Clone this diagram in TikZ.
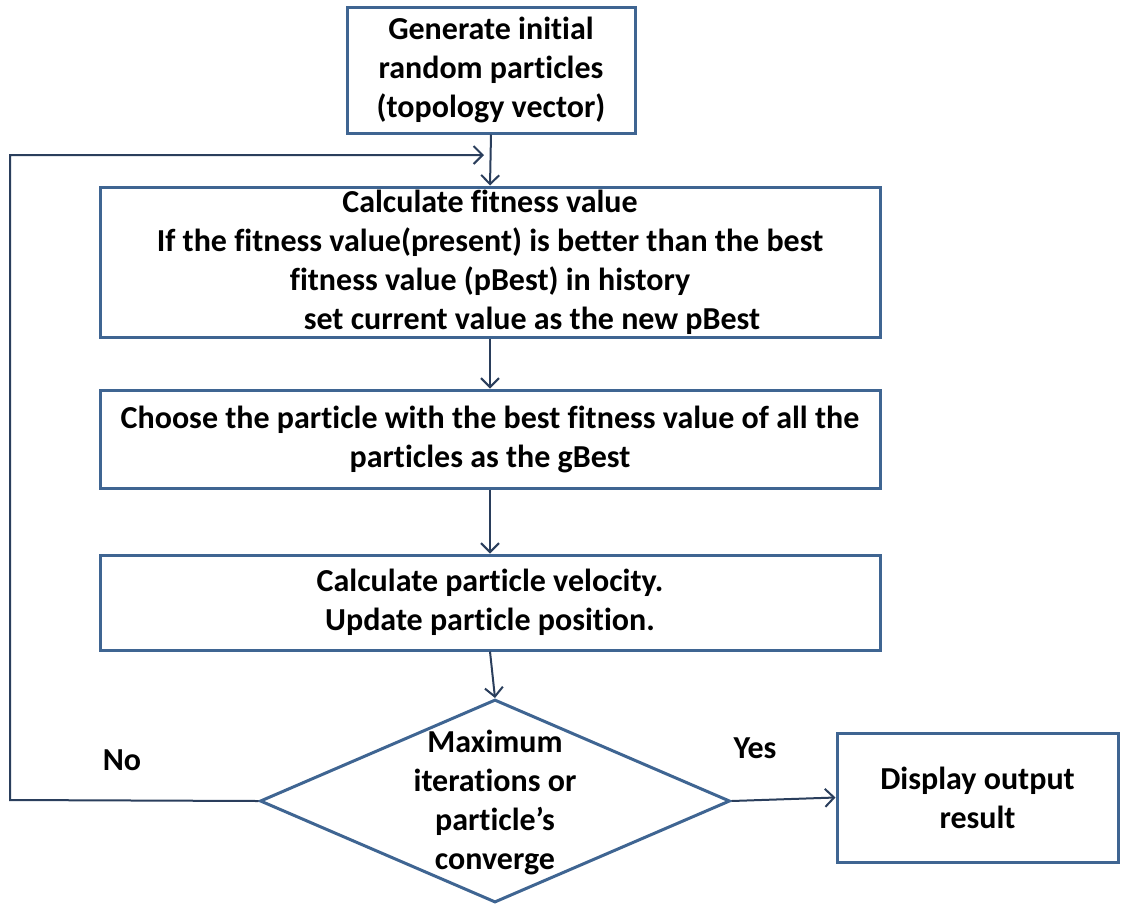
\documentclass[tikz,border=0pt]{standalone}
\usepackage{fontspec}
\setmainfont{Carlito}[Ligatures=NoCommon]
\usetikzlibrary{arrows.meta,shapes.geometric}
\definecolor{boxblue}{HTML}{3F6592}
\definecolor{arrowblue}{HTML}{2A3E5C}
\begin{document}
\begin{tikzpicture}[x=1pt,y=-1pt,
  every node/.style={font=\fontsize{32}{39}\selectfont\bfseries},
  procbox/.style={draw=boxblue,line width=3pt,rectangle,inner sep=0pt,align=center},
  decbox/.style={draw=boxblue,line width=3pt,diamond,inner sep=0pt},
  conn/.style={draw=arrowblue,line width=2pt,-{Straight Barb[length=9pt,width=18pt,line width=2pt]}},
  plainline/.style={draw=arrowblue,line width=2pt}]
\useasboundingbox (0,0) rectangle (1122,906);
\node[procbox,minimum width=288pt,minimum height=126pt] (b1) at (491,70)
  {Generate initial\\random particles\\(topology vector)};
\node[procbox,minimum width=780pt,minimum height=150pt] (b2) at (490,262)
  {Calculate fitness value\\If the fitness value(present) is better than the best\\fitness value (pBest) in history\\\hspace*{84pt}set current value as the new pBest};
\node[procbox,minimum width=780pt,minimum height=98pt] (b3) at (490,439)
  {Choose the particle with the best fitness value of all the\\particles as the gBest};
\node[procbox,minimum width=780pt,minimum height=95pt] (b4) at (490,602.5)
  {Calculate particle velocity.\\Update particle position.};
\node[decbox,minimum width=470pt,minimum height=203pt] (d) at (495,801) {};
\node[align=center] (dt) at (495,802) {Maximum\\iterations or\\particle’s\\converge};
\node[procbox,minimum width=281pt,minimum height=129pt] (b5) at (977.5,797.5)
  {Display output\\result};
\node (no) at (122,760) {No};
\node (yes) at (755,748) {Yes};
\coordinate (fbl) at (10,800);
\coordinate (fbt) at (10,155);
\coordinate (fbe) at (484,155);
\draw[conn] (b1.south) -- (b2.north);
\draw[conn] (b2.south) -- (b3.north);
\draw[conn] (b3.south) -- (b4.north);
\draw[conn] (b4.south) -- (d.north);
\draw[conn] (d.east) -- (b5.west);
\draw[conn] (d.west) -- (fbl) -- (fbt) -- (fbe);
\end{tikzpicture}
\end{document}
